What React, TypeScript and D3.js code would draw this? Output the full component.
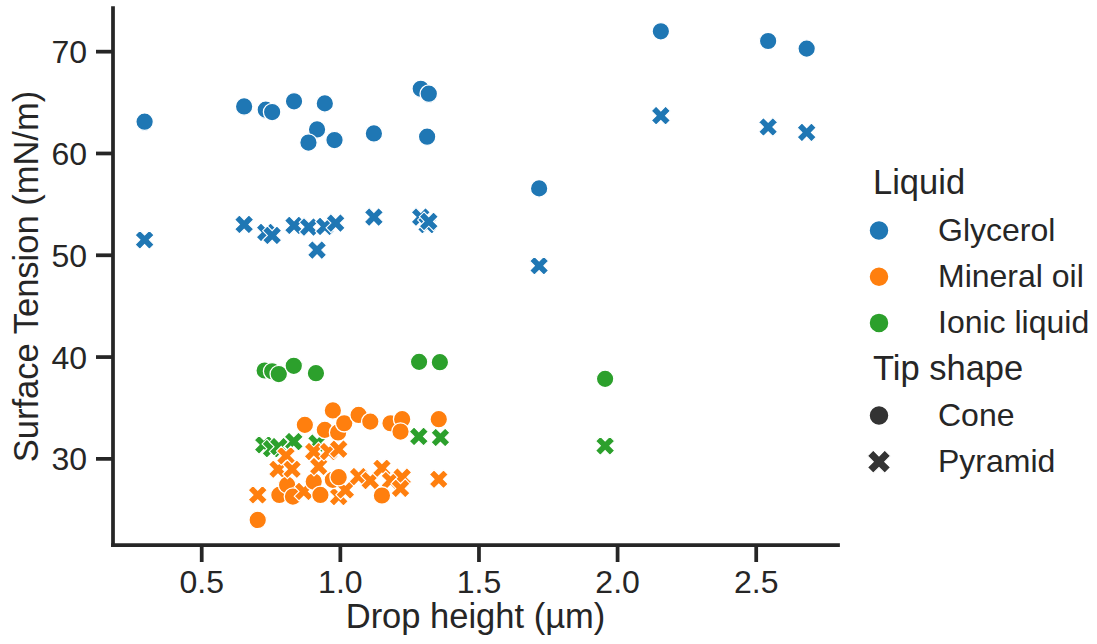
import React from "react";
import * as d3 from "d3";

// ---- Data ----
const glycerolConeX = [0.294, 0.653, 0.731, 0.754, 0.833, 0.944, 0.916, 0.885, 0.979, 1.121, 1.290, 1.319, 1.313, 1.717, 2.156, 2.543, 2.682];
const glycerolConeY = [63.12, 64.62, 64.30, 64.07, 65.12, 64.92, 62.36, 61.07, 61.32, 61.97, 66.36, 65.87, 61.65, 56.57, 72.0, 71.05, 70.3];
const glycerolPyrX = [0.294, 0.653, 0.731, 0.754, 0.833, 0.886, 0.916, 0.944, 0.983, 1.121, 1.290, 1.313, 1.319, 1.717, 2.156, 2.543, 2.682];
const glycerolPyrY = [51.52, 53.03, 52.24, 51.95, 52.93, 52.77, 50.51, 52.83, 53.16, 53.75, 53.75, 53.0, 53.32, 48.97, 63.71, 62.6, 62.07];

const ionicConeX = [0.727, 0.754, 0.778, 0.832, 0.912, 1.284, 1.359, 1.955];
const ionicConeY = [38.68, 38.6, 38.33, 39.14, 38.42, 39.53, 39.5, 37.86];
const ionicPyrX = [0.724, 0.752, 0.778, 0.832, 0.916, 1.283, 1.361, 1.955];
const ionicPyrY = [31.38, 31.0, 31.2, 31.7, 31.55, 32.2, 32.1, 31.28];

const oilPyrX = [0.702, 0.775, 0.804, 0.826, 0.868, 0.904, 0.922, 0.958, 0.994, 0.994, 1.018, 1.066, 1.108, 1.150, 1.181, 1.223, 1.217, 1.355];
const oilPyrY = [26.46, 28.98, 30.3, 28.98, 26.8, 30.72, 29.25, 30.72, 30.95, 26.3, 26.95, 28.26, 27.87, 29.08, 27.87, 28.2, 27.1, 28.0];
const oilConeX = [0.702, 0.780, 0.808, 0.829, 0.872, 0.904, 0.928, 0.944, 0.973, 0.973, 0.994, 0.992, 1.014, 1.066, 1.108, 1.150, 1.181, 1.223, 1.217, 1.355];
const oilConeY = [24.0, 26.46, 27.44, 26.3, 33.34, 27.77, 26.46, 32.85, 34.76, 27.94, 28.2, 32.6, 33.5, 34.32, 33.66, 26.4, 33.5, 33.9, 32.68, 33.9];

const liquids = ["Glycerol", "Mineral oil", "Ionic liquid"];
const shapes = ["Cone", "Pyramid"];
const xTicks = [0.5, 1.0, 1.5, 2.0, 2.5];
const yTicks = [30, 40, 50, 60, 70];

const colors: Record<string, string> = {
  Glycerol: "#1f77b4",
  "Mineral oil": "#ff7f0e",
  "Ionic liquid": "#2ca02c",
};

type Pt = { x: number; y: number; liquid: string; shape: string };
function pts(xs: number[], ys: number[], liquid: string, shape: string): Pt[] {
  return xs.map((x, i) => ({ x, y: ys[i], liquid, shape }));
}
function interleave(a: Pt[], b: Pt[]): Pt[] {
  const out: Pt[] = [];
  const n = Math.max(a.length, b.length);
  for (let i = 0; i < n; i++) {
    if (a[i]) out.push(a[i]);
    if (b[i]) out.push(b[i]);
  }
  return out;
}

const points: Pt[] = [
  ...interleave(pts(glycerolConeX, glycerolConeY, "Glycerol", "Cone"), pts(glycerolPyrX, glycerolPyrY, "Glycerol", "Pyramid")),
  ...interleave(pts(ionicConeX, ionicConeY, "Ionic liquid", "Cone"), pts(ionicPyrX, ionicPyrY, "Ionic liquid", "Pyramid")),
  ...interleave(pts(oilPyrX, oilPyrY, "Mineral oil", "Pyramid"), pts(oilConeX, oilConeY, "Mineral oil", "Cone")),
];

// ---- Layout ----
const W = 1097;
const H = 644;
const left = 113;
const right = 838;
const top = 8;
const bottom = 545;
const FONT = "'Liberation Sans', Arial, Helvetica, sans-serif";
const INK = "#262626";

const x = d3.scaleLinear().domain([0.18, 2.795]).range([left, right]);
const y = d3.scaleLinear().domain([21.54, 74.29]).range([bottom, top]);

function xPath(size: number): string {
  const v = [
    [-1, -2], [0, -1], [1, -2], [2, -1], [1, 0], [2, 1],
    [1, 2], [0, 1], [-1, 2], [-2, 1], [-1, 0], [-2, -1],
  ].map(([a, b]) => [(a / 4) * size, (b / 4) * size]);
  return "M" + v.map((p) => p.join(",")).join("L") + "Z";
}

const MS = 17.5;
const xd = xPath(19);

export default function App() {
  const legendX = 873;
  const legendMarkerX = 879;
  const legendLabelX = 938;
  return (
    <svg
      width={W}
      height={H}
      style={{ position: "absolute", left: 0, top: 0, background: "#fff" }}
      fontFamily={FONT}
    >
      <rect width={W} height={H} fill="#fff" />
      {/* points */}
      <g>
        {points.map((p, i) =>
          p.shape === "Cone" ? (
            <circle
              key={i}
              cx={x(p.x)}
              cy={y(p.y)}
              r={MS / 2}
              fill={colors[p.liquid]}
              stroke="#fff"
              strokeWidth={1.3}
            />
          ) : (
            <path
              key={i}
              d={xd}
              transform={`translate(${x(p.x)},${y(p.y)})`}
              fill={colors[p.liquid]}
              stroke="#fff"
              strokeWidth={1.1}
            />
          )
        )}
      </g>
      {/* spines */}
      <line x1={left} x2={left} y1={top} y2={bottom} stroke={INK} strokeWidth={3.75} strokeLinecap="square" />
      <line x1={left} x2={right} y1={bottom} y2={bottom} stroke={INK} strokeWidth={3.75} strokeLinecap="square" />
      {/* x ticks */}
      {xTicks.map((t) => (
        <g key={t}>
          <line x1={x(t)} x2={x(t)} y1={bottom} y2={bottom + 17} stroke={INK} strokeWidth={3.75} />
          <text x={x(t)} y={593} fontSize={32} textAnchor="middle" fill={INK}>
            {t.toFixed(1)}
          </text>
        </g>
      ))}
      {/* y ticks */}
      {yTicks.map((t) => (
        <g key={t}>
          <line x1={left - 17} x2={left} y1={y(t)} y2={y(t)} stroke={INK} strokeWidth={3.75} />
          <text x={87} y={y(t) + 11.5} fontSize={32} textAnchor="end" fill={INK}>
            {t}
          </text>
        </g>
      ))}
      {/* axis labels */}
      <text x={(left + right) / 2} y={628} fontSize={34.5} textAnchor="middle" fill={INK}>
        Drop height (µm)
      </text>
      <text
        transform={`translate(38,${(top + bottom) / 2}) rotate(-90)`}
        fontSize={34.5}
        textAnchor="middle"
        fill={INK}
      >
        Surface Tension (mN/m)
      </text>
      {/* legend */}
      <text x={legendX} y={194} fontSize={34.5} fill={INK}>Liquid</text>
      {liquids.map((l, i) => {
        const by = 241 + i * 46.2;
        return (
          <g key={l}>
            <circle cx={legendMarkerX} cy={by - 10.5} r={10} fill={colors[l]} stroke="#fff" strokeWidth={1.5} />
            <text x={legendLabelX} y={by} fontSize={32} fill={INK}>{l}</text>
          </g>
        );
      })}
      <text x={legendX} y={380} fontSize={34.5} fill={INK}>Tip shape</text>
      {shapes.map((s, i) => {
        const by = 426 + i * 46.2;
        return (
          <g key={s}>
            {s === "Cone" ? (
              <circle cx={legendMarkerX} cy={by - 10.5} r={10} fill="#333" stroke="#fff" strokeWidth={1.5} />
            ) : (
              <path d={xPath(23)} transform={`translate(${legendMarkerX},${by - 10.5})`} fill="#333" stroke="#fff" strokeWidth={1.1} />
            )}
            <text x={legendLabelX} y={by} fontSize={32} fill={INK}>{s}</text>
          </g>
        );
      })}
    </svg>
  );
}
